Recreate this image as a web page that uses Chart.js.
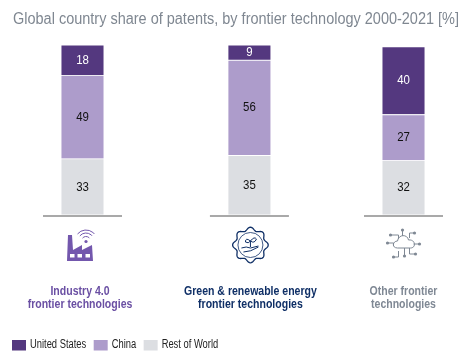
<!DOCTYPE html>
<html>
<head>
<meta charset="utf-8">
<style>
  html, body { margin: 0; padding: 0; background: #fff; }
  #wrap { width: 474px; height: 364px; }
</style>
<script src="https://cdn.jsdelivr.net/npm/chart.js@4/dist/chart.umd.min.js"></script>
</head>
<body>
<div id="wrap"><canvas id="myChart"></canvas></div>
<script>
const categories = [
  ["Industry 4.0", "frontier technologies"],
  ["Green & renewable energy", "frontier technologies"],
  ["Other frontier", "technologies"]
];
const unitedStates = [18, 9, 40];
const china = [49, 56, 27];
const restOfWorld = [33, 35, 32];
const titleText = "Global country share of patents, by frontier technology 2000-2021 [%]";

// columns are not evenly spaced in the original, so x is a linear scale of slots
const slots = [0, 13, 25];
const catColors = ["#6a4fa3", "#0f2f66", "#7f8894"];
const catNudge = [-2.5, 1, 0];
const FONT = "'Liberation Sans', sans-serif";

function series(values) {
  return values.map((v, i) => ({ x: slots[i], y: v }));
}

// no narrow font is installed, so squeeze the text horizontally
function narrowText(c, text, x, y, sx) {
  c.save();
  c.translate(x, y);
  c.scale(sx, 1);
  c.fillText(text, 0, 0);
  c.restore();
}

function factory(c, x, y) {
  c.fillStyle = "#7357ad";
  c.strokeStyle = "#7357ad";
  c.beginPath();
  c.moveTo(x, y + 31);
  c.lineTo(x + 1, y + 5);
  c.lineTo(x + 5, y + 5);
  c.lineTo(x + 6, y + 20);
  c.lineTo(x + 15, y + 15);
  c.lineTo(x + 15, y + 20);
  c.lineTo(x + 25, y + 15);
  c.lineTo(x + 26, y + 31);
  c.closePath();
  c.fill();
  c.fillStyle = "#fff";
  [3, 10.5, 18.5].forEach((d) => c.fillRect(x + d, y + 24, 4.5, 3.5));
  c.lineWidth = 1;
  [4.5, 8, 11].forEach((r) => {
    c.beginPath();
    c.arc(x + 19, y + 11, r, Math.PI * 1.22, Math.PI * 1.78);
    c.stroke();
  });
  c.fillStyle = "#7357ad";
  c.beginPath();
  c.arc(x + 19, y + 11.5, 1.6, 0, Math.PI * 2);
  c.fill();
}

function gear(c, x, y) {
  c.strokeStyle = "#0f2f66";
  c.lineWidth = 1.3;
  c.beginPath();
  for (let i = 0; i <= 360; i += 3) {
    const a = i * Math.PI / 180;
    const r = 16.2 + 1.6 * Math.cos(a * 8);
    const px = x + r * Math.cos(a);
    const py = y + r * Math.sin(a);
    if (i === 0) c.moveTo(px, py); else c.lineTo(px, py);
  }
  c.closePath();
  c.stroke();
  c.lineWidth = 0.8;
  c.beginPath();
  c.arc(x, y, 12.5, 0, Math.PI * 2);
  c.stroke();
  c.lineWidth = 1;
  c.beginPath();
  c.moveTo(x - 9, y + 3);
  c.quadraticCurveTo(x - 4, y + 1, x, y + 3);
  c.lineTo(x + 8, y + 1);
  c.moveTo(x - 7, y + 7);
  c.quadraticCurveTo(x, y + 7, x + 8, y + 2);
  c.moveTo(x, y + 2);
  c.lineTo(x, y - 4);
  c.moveTo(x, y - 4);
  c.quadraticCurveTo(x - 5, y - 8, x - 5, y - 3);
  c.quadraticCurveTo(x - 2, y - 1, x, y - 4);
  c.moveTo(x, y - 4);
  c.quadraticCurveTo(x + 4, y - 9, x + 6, y - 6);
  c.quadraticCurveTo(x + 4, y - 1, x, y - 4);
  c.stroke();
}

function cloud(c, x, y) {
  c.strokeStyle = "#7f8894";
  c.fillStyle = "#7f8894";
  c.lineWidth = 1;
  c.beginPath();
  c.moveTo(x - 7, y + 6);
  c.bezierCurveTo(x - 13, y + 6, x - 12, y - 1, x - 7, y - 1);
  c.bezierCurveTo(x - 6, y - 8, x + 3, y - 8, x + 4, y - 2);
  c.bezierCurveTo(x + 11, y - 3, x + 12, y + 6, x + 6, y + 6);
  c.closePath();
  c.stroke();
  const nodes = [
    [-14, -7, -6, -3], [-2, -12, -2, -6], [10, -9, 5, -4], [15, 2, 9, 2],
    [-17, 1, -11, 4], [-11, 15, -6, 9], [0, 14, 0, 6], [11, 12, 5, 6]
  ];
  nodes.forEach((n) => {
    c.beginPath();
    c.moveTo(x + n[0], y + n[1]);
    c.lineTo(x + n[2], y + n[1]);
    c.lineTo(x + n[2], y + n[3]);
    c.stroke();
    c.beginPath();
    c.arc(x + n[0], y + n[1], 1.6, 0, Math.PI * 2);
    c.fill();
  });
}

const extras = {
  id: "extras",
  afterDatasetsDraw(chart) {
    const c = chart.ctx;
    const xs = chart.scales.x;
    const base = chart.scales.y.getPixelForValue(0);
    c.save();
    c.textAlign = "center";
    c.textBaseline = "middle";

    // title
    c.font = "16px " + FONT;
    c.fillStyle = "#7f8791";
    narrowText(c, titleText, 236, 19.5, 0.905);

    // numbers inside the segments
    c.font = "13px " + FONT;
    chart.data.datasets.forEach((ds, d) => {
      chart.getDatasetMeta(d).data.forEach((el, i) => {
        c.fillStyle = ds.labelColor;
        narrowText(c, ds.data[i].y, el.x, (el.y + el.base) / 2, 0.88);
      });
    });
    slots.forEach((s, i) => {
      const px = xs.getPixelForValue(s);
      // baseline under each column
      c.strokeStyle = "#8c8c8c";
      c.lineWidth = 1.6;
      c.beginPath();
      c.moveTo(px - 39.5, base + 1);
      c.lineTo(px + 39.5, base + 1);
      c.stroke();
      // category names
      c.font = "bold 13.5px " + FONT;
      c.fillStyle = catColors[i];
      categories[i].forEach((line, k) => narrowText(c, line, px + catNudge[i], base + 76 + k * 13.7, 0.78));
    });
    factory(c, xs.getPixelForValue(slots[0]) - 15.5, base + 15);
    gear(c, xs.getPixelForValue(slots[1]) + 1, base + 30);
    cloud(c, xs.getPixelForValue(slots[2]) + 1, base + 27);

    // legend, left to right from the top of the stack
    c.font = "12px " + FONT;
    c.textAlign = "left";
    let lx = 12;
    const ly = base + 130;
    chart.data.datasets.slice().reverse().forEach((ds) => {
      c.fillStyle = ds.backgroundColor;
      c.fillRect(lx, ly - 5, 14, 10.5);
      c.fillStyle = "#222";
      narrowText(c, ds.label, lx + 18, ly, 0.78);
      lx += 18 + c.measureText(ds.label).width * 0.78 + 7.5;
    });
    c.restore();
  }
};

new Chart(document.getElementById("myChart"), {
  type: "bar",
  data: {
    datasets: [
      { label: "Rest of World", data: series(restOfWorld), backgroundColor: "#dcdee2", labelColor: "#111" },
      { label: "China", data: series(china), backgroundColor: "#ad9ccb", labelColor: "#111" },
      { label: "United States", data: series(unitedStates), backgroundColor: "#54387f", labelColor: "#fff" }
    ]
  },
  options: {
    responsive: true,
    maintainAspectRatio: false,
    animation: false,
    layout: { padding: { top: 45 } },
    datasets: { bar: { barThickness: 43, borderColor: "#fff", borderWidth: 0.8, borderSkipped: false } },
    plugins: {
      tooltip: { enabled: false },
      title: { display: false },
      legend: { display: false }
    },
    scales: {
      x: {
        type: "linear",
        offset: false,
        min: -6.425,
        max: 30.49,
        stacked: true,
        display: true,
        grid: { display: false },
        border: { display: false },
        ticks: { display: false },
        afterFit(scale) { scale.height = 149; }
      },
      y: { stacked: true, display: false, min: 0, max: 100 }
    }
  },
  plugins: [extras]
});
</script>
</body>
</html>
